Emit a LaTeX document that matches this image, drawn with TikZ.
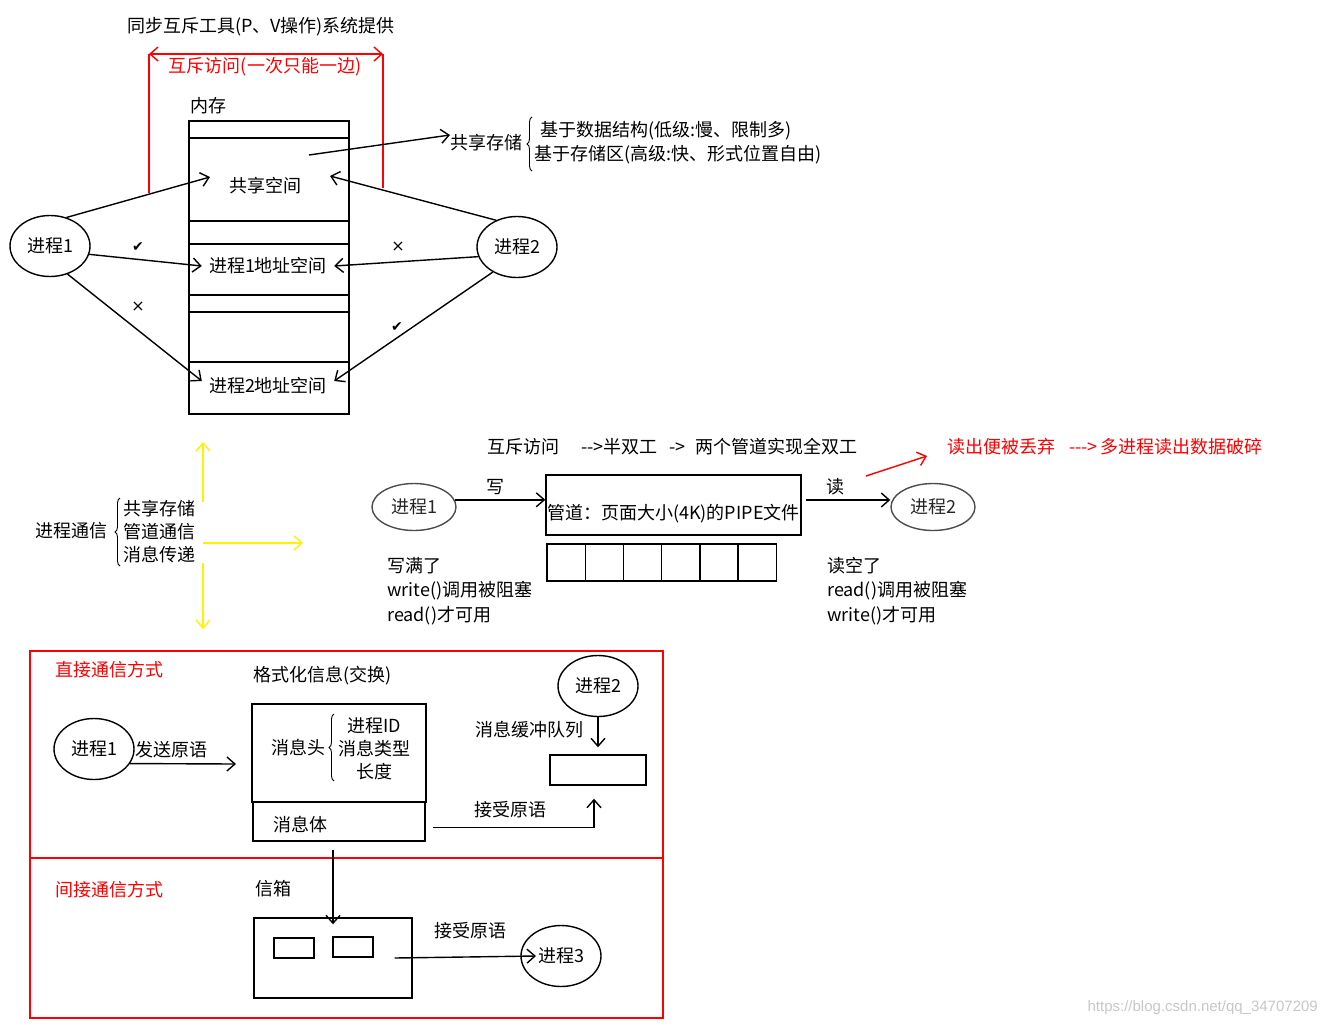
\documentclass[tikz,border=0pt]{standalone}
\usepackage{fontspec}
\newfontfamily\cjkfont{Noto Sans CJK SC}
\newfontfamily\symfont{DejaVu Sans}
\newfontfamily\wmfont{Liberation Sans}
\usepackage{tikz}
\usetikzlibrary{arrows.meta,shapes.geometric}
\usetikzlibrary{decorations.pathreplacing}

\begin{document}
\begin{tikzpicture}[x=1pt,y=-1pt,
    every node/.style={inner sep=0pt,font=\cjkfont\fontsize{18}{22}\selectfont},
    edge/.style={line width=1.4pt},
    link/.style={line width=1.4pt,-{Straight Barb[length=8pt,width=14pt]}},
    proc/.style={draw,ellipse,line width=1.4pt,minimum width=80pt,minimum height=61pt},
    pipeproc/.style={proc,draw=black!70,text=black!85,minimum width=84pt,minimum height=47pt},
    cell/.style={draw,line width=1.4pt},
    curly/.style={decorate,decoration={brace,amplitude=5pt},line width=0.9pt},
    okmark/.style={font=\symfont\fontsize{14}{14}\selectfont},
    nomark/.style={font=\symfont\fontsize{16}{16}\selectfont}]
  \useasboundingbox (0,0) rectangle (1328,1026);

  % shared memory
  \node (sync) at (261,27) {同步互斥工具(P、V操作)系统提供};
  \draw[red,line width=1.4pt,{Straight Barb[length=8pt,width=14pt]}-{Straight Barb[length=8pt,width=14pt]}] (149,54) -- (383,54);
  \draw[red,line width=1.4pt] (149,54) -- (149,193) (383,54) -- (383,188);
  \node[text=red] (mutex) at (265,67) {互斥访问(一次只能一边)};
  \node[anchor=west] (mem) at (190,106) {内存};
  \draw[edge] (189,121) rectangle (349,414);
  \foreach \y in {138,221,244,295,312,362} \draw[edge] (189,\y) -- (349,\y);
  \node (shared) at (265,186) {共享空间};
  \node[inner xsep=7pt] (a1) at (268,266) {进程1地址空间};
  \node[inner xsep=7pt] (a2) at (268,386) {进程2地址空间};
  \node[proc] (p1) at (50,246) {进程1};
  \node[proc] (p2) at (517,247) {进程2};
  \coordinate (s1) at (210,177);
  \coordinate (s2) at (330,176);
  \coordinate (s0) at (309,155);
  \draw[link] (p1.60) -- (s1);
  \draw[link] (p2.128) -- (s2);
  \draw[link] (p1.-12) -- (a1.west);
  \draw[link] (p2.194) -- (a1.east);
  \draw[link] (p1.-58) -- ([yshift=5pt]a2.west);
  \draw[link] (p2.226) -- ([yshift=5pt]a2.east);
  \node[okmark] (ok1) at (138,247) {✔};
  \node[nomark] (no1) at (398,247) {×};
  \node[nomark] (no2) at (138,307) {×};
  \node[okmark] (ok2) at (397,327) {✔};
  \node[anchor=west] (ss) at (450,143) {共享存储};
  \draw[link] (s0) -- ([yshift=8pt]ss.west);
  \draw[curly] (532,171) -- (532,117);
  \node[anchor=west] (ds) at (540,131) {基于数据结构(低级:慢、限制多)};
  \node[anchor=west] (sa) at (534,155) {基于存储区(高级:快、形式位置自由)};

  % process communication
  \node[anchor=east] (ipc) at (108,531) {进程通信};
  \draw[curly] (120,566) -- (120,498);
  \node[anchor=west,align=left,font=\cjkfont\fontsize{18}{23}\selectfont] (ipcl) at (123,532) {共享存储\\管道通信\\消息传递};
  \coordinate (yu) at (203,502);
  \coordinate (yd) at (203,563);
  \coordinate (yr) at (203,543);
  \draw[link,yellow] (yu) -- ++(0,-60);
  \draw[link,yellow] (yd) -- ++(0,66);
  \draw[link,yellow] (yr) -- ++(100,0);

  % pipe
  \node[anchor=west] (duplex) at (487,447) {互斥访问\hspace{22pt}-{}->半双工\hspace{12pt}->\hspace{10pt}两个管道实现全双工};
  \node[pipeproc] (r1) at (414,507) {进程1};
  \node[cell,minimum width=255pt,minimum height=60pt] (pipe) at (673.5,505) {};
  \node[anchor=west] (pipetxt) at (547,514) {管道：页面大小(4K)的PIPE文件};
  \node[pipeproc] (r2) at (933,507) {进程2};
  \draw[link] (r1.10) -- (r1.10 -| pipe.west);
  \node (wr) at (495,487) {写};
  \coordinate (rd) at (806,500);
  \draw[link] (rd) -- (rd -| r2.west);
  \node (rdl) at (835,487) {读};
  \foreach \i in {0,...,5} \draw[edge] (547+38.2*\i,544) rectangle ++(38.2,37);
  \node[anchor=west,text=red] (drop) at (947,447) {读出便被丢弃\hspace{14pt}-{}-{}->\hspace{3pt}多进程读出数据破碎};
  \coordinate (rs) at (866,476);
  \draw[link,red] (rs) -- ([xshift=-20pt,yshift=-9pt]drop.west);
  \node[anchor=west,align=left,font=\cjkfont\fontsize{18}{24.5}\selectfont] (full) at (387,591) {写满了\\write()调用被阻塞\\read()才可用};
  \node[anchor=west,align=left,font=\cjkfont\fontsize{18}{24.5}\selectfont] (empty) at (827,591) {读空了\\read()调用被阻塞\\write()才可用};

  % message passing
  \draw[red,line width=1.4pt] (30,651) rectangle (663,1018);
  \draw[red,line width=1.4pt] (30,858) -- (663,858);
  \node[anchor=west,text=red] (direct) at (55,670) {直接通信方式};
  \node[anchor=west] (fmt) at (253,676) {格式化信息(交换)};
  \node[proc] (q1) at (94,749) {进程1};
  \node[anchor=west] (send) at (135,750) {发送原语};
  \coordinate (sendend) at (236,764);
  \draw[link] (q1.-22) -- (sendend);
  \node[cell,minimum width=174pt,minimum height=98pt] (head) at (339,753) {};
  \node[cell,minimum width=172pt,minimum height=39pt] (body) at (339,821.5) {};
  \node[anchor=east] (hd) at (326,748) {消息头};
  \draw[curly] (334,781) -- (334,714);
  \node[align=center,font=\cjkfont\fontsize{18}{23}\selectfont] (fields) at (374,749) {进程ID\\消息类型\\长度};
  \node[anchor=west] (bd) at (273,825) {消息体};
  \node[proc] (q2) at (598,686) {进程2};
  \node (buf) at (529,730) {消息缓冲队列};
  \node[cell,minimum width=96pt,minimum height=30pt] (queue) at (598,770) {};
  \draw[link] (q2.south) -- ([yshift=7pt]queue.north);
  \node (recv) at (510,810) {接受原语};
  \draw[link] ([xshift=7pt,yshift=-6pt]body.east) -| ([xshift=-4pt,yshift=-13pt]queue.south);
  \node[anchor=west,text=red] (indirect) at (55,890) {间接通信方式};
  \node[anchor=west] (mbl) at (255,889) {信箱};
  \node[cell,minimum width=158pt,minimum height=80pt] (mbox) at (333,958) {};
  \node[cell,minimum width=40pt,minimum height=20pt] (slot1) at (294,948) {};
  \node[cell,minimum width=40pt,minimum height=20pt] (slot2) at (353,947) {};
  \draw[link,shorten <=8pt] (mbox.north |- body.south) -- ([yshift=-7pt]mbox.north);
  \node (recv2) at (470,931) {接受原语};
  \node[proc] (q3) at (561,956) {进程3};
  \draw[link] ([xshift=-18pt]mbox.east) -- ([xshift=-25pt]q3.center);

  \node[anchor=east,text=black!22,font=\wmfont\fontsize{15}{15}\selectfont] (wm) at (1318,1008) {https://blog.csdn.net/qq\_34707209};
\end{tikzpicture}
\end{document}
